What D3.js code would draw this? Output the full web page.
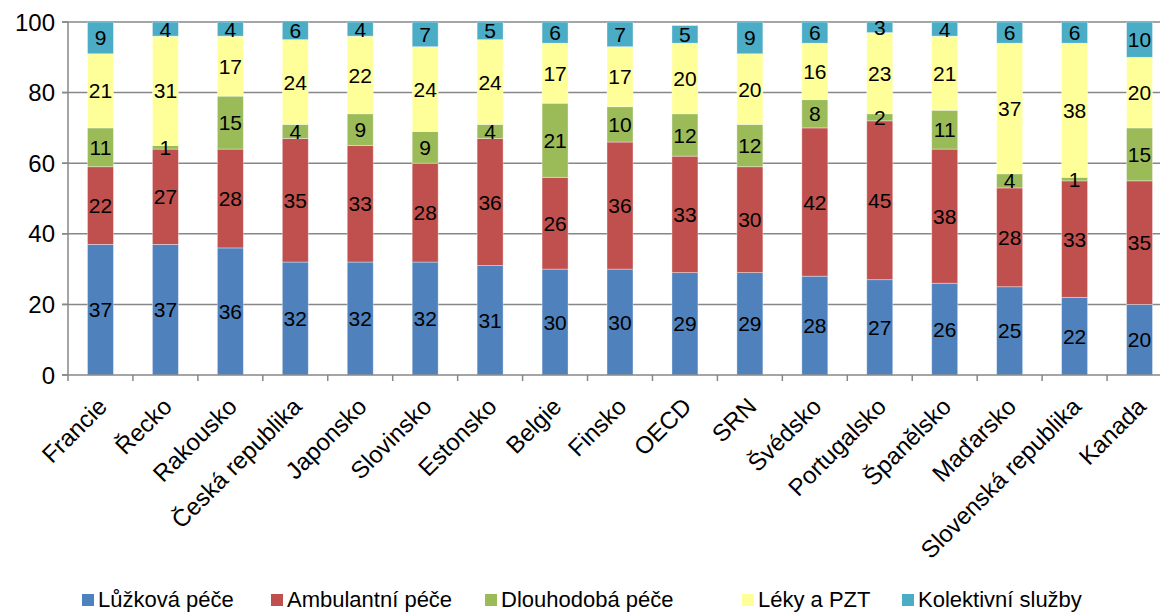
<!DOCTYPE html>
<html>
<head>
<meta charset="utf-8">
<script src="https://cdn.jsdelivr.net/npm/d3@7"></script>
<style>
  body { margin: 0; background: #fff; }
  text { font-family: "Liberation Sans", Arial, sans-serif; fill: #000; }
</style>
</head>
<body>
<svg width="1160" height="612"></svg>
<script>
(function () {

  // categories (countries) and the five cost groups, in %
  var countries = ['Francie', 'Řecko', 'Rakousko', 'Česká republika', 'Japonsko', 'Slovinsko',
    'Estonsko', 'Belgie', 'Finsko', 'OECD', 'SRN', 'Švédsko', 'Portugalsko', 'Španělsko',
    'Maďarsko', 'Slovenská republika', 'Kanada']

  var luzkova     = [37, 37, 36, 32, 32, 32, 31, 30, 30, 29, 29, 28, 27, 26, 25, 22, 20]
  var ambulantni  = [22, 27, 28, 35, 33, 28, 36, 26, 36, 33, 30, 42, 45, 38, 28, 33, 35]
  var dlouhodoba  = [11, 1, 15, 4, 9, 9, 4, 21, 10, 12, 12, 8, 2, 11, 4, 1, 15]
  var leky        = [21, 31, 17, 24, 22, 24, 24, 17, 17, 20, 20, 16, 23, 21, 37, 38, 20]
  var kolektivni  = [9, 4, 4, 6, 4, 7, 5, 6, 7, 5, 9, 6, 3, 4, 6, 6, 10]

  var seriesNames = ['Lůžková péče', 'Ambulantní péče', 'Dlouhodobá péče', 'Léky a PZT', 'Kolektivní služby']
  var seriesData = [luzkova, ambulantni, dlouhodoba, leky, kolektivni]
  var colours = ['#4F81BD', '#C0504D', '#9BBB59', '#FFFF99', '#4BACC6']
  var yTicks = [0, 20, 40, 60, 80, 100]

  var svg = d3.select('svg')

  var x = d3.scaleBand().domain(countries).range([68, 1172]).paddingInner(0.6).paddingOuter(0.3)
  var y = d3.scaleLinear().domain([0, 100]).range([375, 22])
  var step = x.step()

  // build rows for d3.stack
  var rows = countries.map(function (c, i) {
    var r = { country: c }
    seriesNames.forEach(function (s, j) { r[s] = seriesData[j][i] })
    return r
  })
  var stacked = d3.stack().keys(seriesNames)(rows)

  svg.append('clipPath').attr('id', 'plot')
    .append('rect').attr('x', 60).attr('y', y(100)).attr('width', 1100).attr('height', y(0) - y(100))

  // gridlines
  svg.append('g').selectAll('line')
    .data(yTicks.filter(function (d) { return d > 0 }))
    .enter().append('line')
    .attr('x1', 62).attr('x2', 1160)
    .attr('y1', d => y(d)).attr('y2', d => y(d))
    .attr('stroke', '#878787').attr('stroke-width', 1.5)

  // bars
  var layers = svg.append('g').attr('clip-path', 'url(#plot)')
    .selectAll('g').data(stacked).enter().append('g')
    .attr('fill', (d, i) => colours[i])

  layers.selectAll('rect')
    .data(d => d)
    .enter().append('rect')
    .attr('x', d => x(d.data.country))
    .attr('width', x.bandwidth())
    .attr('y', d => y(d[1]))
    .attr('height', d => y(d[0]) - y(d[1]))
    .attr('stroke', 'rgba(255,255,255,0.45)')
    .attr('stroke-width', 0.8)

  // data labels (centred in the visible part of each segment)
  stacked.forEach(function (layer) {
    svg.append('g').selectAll('text')
      .data(layer).enter().append('text')
      .attr('x', d => x(d.data.country) + x.bandwidth() / 2)
      .attr('y', d => y((d[0] + Math.min(d[1], 100)) / 2))
      .attr('dy', '0.36em')
      .attr('text-anchor', 'middle')
      .attr('font-size', 21)
      .text(d => d[1] - d[0])
  })

  // axes
  svg.append('line').attr('x1', 68).attr('x2', 68).attr('y1', y(100)).attr('y2', y(0))
    .attr('stroke', '#878787').attr('stroke-width', 1.5)
  svg.append('line').attr('x1', 62).attr('x2', 1160).attr('y1', y(0)).attr('y2', y(0))
    .attr('stroke', '#878787').attr('stroke-width', 1.5)

  svg.append('g').selectAll('line')
    .data(yTicks).enter().append('line')
    .attr('x1', 62).attr('x2', 68)
    .attr('y1', d => y(d)).attr('y2', d => y(d))
    .attr('stroke', '#878787').attr('stroke-width', 1.5)

  svg.append('g').selectAll('text')
    .data(yTicks).enter().append('text')
    .attr('x', 55).attr('y', d => y(d))
    .attr('dy', '0.36em')
    .attr('text-anchor', 'end')
    .attr('font-size', 24)
    .text(d => d)

  // category ticks at band boundaries
  svg.append('g').selectAll('line')
    .data(d3.range(countries.length + 1)).enter().append('line')
    .attr('x1', i => 68 + i * step).attr('x2', i => 68 + i * step)
    .attr('y1', y(0)).attr('y2', y(0) + 6)
    .attr('stroke', '#878787').attr('stroke-width', 1.5)

  svg.append('g').selectAll('text')
    .data(countries).enter().append('text')
    .attr('transform', d => 'translate(' + (x(d) + x.bandwidth() / 2 + 8) + ',' + 408 + ') rotate(-45)')
    .attr('text-anchor', 'end')
    .attr('font-size', 24)
    .text(d => d)

  // legend
  var legendX = [82, 271, 485, 742, 902]
  var legend = svg.append('g').selectAll('g')
    .data(seriesNames).enter().append('g')
    .attr('transform', (d, i) => 'translate(' + legendX[i] + ',594)')

  legend.append('rect').attr('width', 12).attr('height', 12)
    .attr('fill', (d, i) => colours[i])
  legend.append('text').attr('x', 16).attr('y', 13)
    .attr('font-size', 22)
    .text(d => d)

})()
</script>
</body>
</html>
